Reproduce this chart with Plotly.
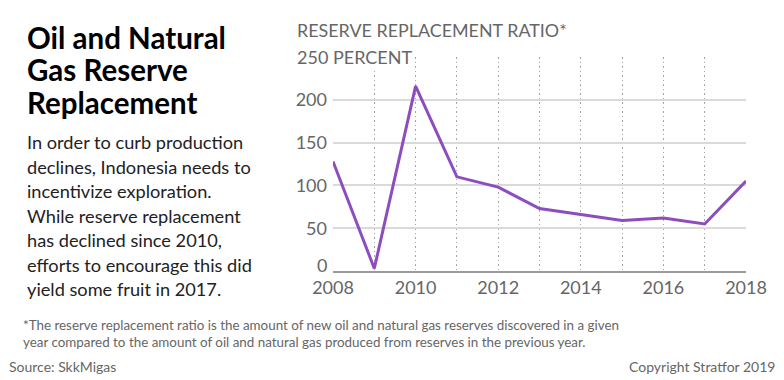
import plotly.graph_objects as go

years = [2008, 2009, 2010, 2011, 2012, 2013, 2014, 2015, 2016, 2017, 2018]
ratio = [128, 3, 216, 110, 98, 73, 66, 59, 62, 55, 105]
y_ticks = [50, 100, 150, 200]
x_ticks = [2008, 2010, 2012, 2014, 2016, 2018]

title_lines = ["Oil and Natural", "Gas Reserve", "Replacement"]
body_lines = ["In order to curb production", "declines, Indonesia needs to",
              "incentivize exploration.", "While reserve replacement",
              "has declined since 2010,", "efforts to encourage this did",
              "yield some fruit in 2017."]
axis_title = "RESERVE REPLACEMENT RATIO*"
top_label = "250 PERCENT"
zero_label = "0"
footnote = ("*The reserve replacement ratio is the amount of new oil and natural gas reserves discovered in a given<br>"
            "year compared to the amount of oil and natural gas produced from reserves in the previous year.")
source = "Source: SkkMigas"
copyright_txt = "Copyright Stratfor 2019"

FONT = "Lato, 'Open Sans', sans-serif"
GRAY = "#666666"

fig = go.Figure()
fig.add_trace(go.Scatter(x=years, y=ratio, mode="lines",
                         line=dict(color="#8e4dbf", width=3), hoverinfo="skip"))

W, H = 784, 380
L, R, T, B = 333, 38, 57, 109

fig.update_layout(
    width=W, height=H,
    margin=dict(l=L, r=R, t=T, b=B),
    paper_bgcolor="white", plot_bgcolor="white",
    showlegend=False,
    font=dict(family=FONT, color=GRAY),
    xaxis=dict(range=[2008, 2018], tickvals=x_ticks, ticktext=[str(v) for v in x_ticks],
               showgrid=True, gridcolor="#a8a8a8", griddash="1.5px,3px", gridwidth=1.2,
               minor=dict(dtick=1, tick0=2008, showgrid=True, gridcolor="#a8a8a8",
                          griddash="1.5px,3px", gridwidth=1.2),
               zeroline=False, showline=True, linecolor="#9a9a9a", linewidth=1.5,
               ticks="", ticklabelstandoff=0,
               tickfont=dict(size=18, color=GRAY, family=FONT)),
    yaxis=dict(range=[0, 250], tickvals=y_ticks + [0, 250], ticktext=[str(v) for v in y_ticks] + ["", ""],
               showgrid=True, gridcolor="#dadada", gridwidth=1.5,
               zeroline=False, showline=False, ticks="",
               ticklabelstandoff=5,
               tickfont=dict(size=18, color=GRAY, family=FONT)),
)

ann = []
y0 = 37
for i, t in enumerate(title_lines):
    ann.append(dict(x=26, y=y0 + i * 32.5, text="<b>" + t + "</b>",
                    font=dict(size=29.5, color="#000000", family=FONT, weight=900)))
y0 = 142
for i, t in enumerate(body_lines):
    ann.append(dict(x=26, y=y0 + i * 24.5, text=t,
                    font=dict(size=18.2, color="#222222", family=FONT)))
ann.append(dict(x=296, y=30, text=axis_title, font=dict(size=17.9, color=GRAY, family=FONT)))
ann.append(dict(x=296, y=57, text=top_label, font=dict(size=18, color=GRAY, family=FONT),
                bgcolor="white"))
ann.append(dict(x=22, y=333, text=footnote, font=dict(size=13.4, color=GRAY, family=FONT)))
ann.append(dict(x=8, y=366, text=source, font=dict(size=14, color=GRAY, family=FONT)))

annotations = []
for a in ann:
    annotations.append(dict(xref="paper", yref="paper",
                            x=a["x"] / W, y=1 - a["y"] / H,
                            xanchor="left", yanchor="middle", showarrow=False,
                            text=a["text"], font=a["font"], align="left",
                            bgcolor=a.get("bgcolor", "rgba(0,0,0,0)"), borderpad=0))
annotations.append(dict(xref="paper", yref="paper", x=(W - 7) / W, y=1 - 366 / H,
                        xanchor="right", yanchor="middle", showarrow=False,
                        text=copyright_txt, font=dict(size=14, color=GRAY, family=FONT)))
annotations.append(dict(xref="paper", yref="paper", x=329 / W, y=1 - 265 / H,
                        xanchor="right", yanchor="middle", showarrow=False,
                        text=zero_label, font=dict(size=18, color=GRAY, family=FONT)))
# convert figure-pixel coords to plot-area paper coords
for a in annotations:
    px = a["x"] * W
    py = (1 - a["y"]) * H
    a["x"] = (px - L) / (W - L - R)
    a["y"] = 1 - (py - T) / (H - T - B)
fig.update_layout(annotations=annotations)

fig.write_html("out.html", config={"displayModeBar": False},
               post_script="document.body.style.margin='0';document.body.style.overflow='hidden';")
